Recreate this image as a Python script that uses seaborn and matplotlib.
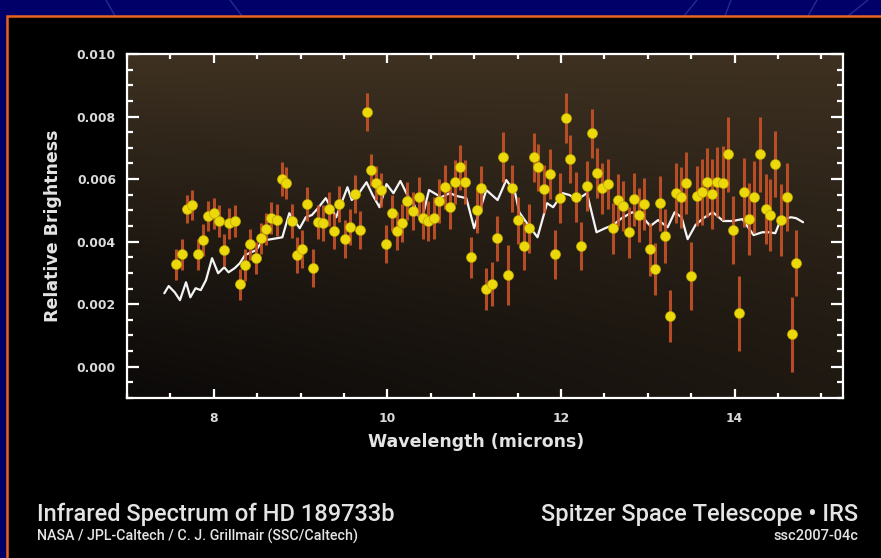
import numpy as np
import pandas as pd
import matplotlib
matplotlib.use("Agg")
import matplotlib.pyplot as plt
from matplotlib.patches import Rectangle
from matplotlib.lines import Line2D
from matplotlib.ticker import MultipleLocator, FormatStrFormatter
import seaborn as sns

# Measured secondary-eclipse spectrum (wavelength in microns)
wavelength = [
    7.57, 7.63, 7.69, 7.75, 7.82, 7.87, 7.93, 8.00, 8.06, 8.12,
    8.18, 8.24, 8.30, 8.36, 8.42, 8.49, 8.54, 8.60, 8.66, 8.73,
    8.79, 8.83, 8.90, 8.96, 9.02, 9.07, 9.14, 9.20, 9.26, 9.33,
    9.39, 9.44, 9.51, 9.57, 9.63, 9.69, 9.76, 9.81, 9.87, 9.93,
    9.99, 10.05, 10.11, 10.17, 10.23, 10.29, 10.36, 10.41, 10.47, 10.54,
    10.60, 10.66, 10.72, 10.78, 10.84, 10.90, 10.96, 11.03, 11.08, 11.14,
    11.20, 11.26, 11.33, 11.39, 11.44, 11.50, 11.57, 11.63, 11.69, 11.74,
    11.80, 11.87, 11.93, 11.99, 12.06, 12.11, 12.17, 12.23, 12.30, 12.36,
    12.41, 12.47, 12.54, 12.60, 12.66, 12.71, 12.78, 12.84, 12.90, 12.96,
    13.03, 13.08, 13.14, 13.20, 13.26, 13.33, 13.38, 13.44, 13.50, 13.57,
    13.63, 13.68, 13.74, 13.80, 13.87, 13.93, 13.98, 14.05, 14.11, 14.17,
    14.23, 14.29, 14.36, 14.41, 14.47, 14.53, 14.60, 14.66, 14.71,
]
brightness = [
    0.00328, 0.00360, 0.00504, 0.00517, 0.00360, 0.00405, 0.00482, 0.00491, 0.00466, 0.00373,
    0.00459, 0.00466, 0.00264, 0.00325, 0.00392, 0.00347, 0.00411, 0.00440, 0.00475, 0.00469,
    0.00600, 0.00587, 0.00466, 0.00357, 0.00376, 0.00520, 0.00315, 0.00462, 0.00459, 0.00504,
    0.00434, 0.00520, 0.00408, 0.00446, 0.00552, 0.00437, 0.00814, 0.00629, 0.00587, 0.00565,
    0.00392, 0.00491, 0.00434, 0.00459, 0.00530, 0.00498, 0.00542, 0.00475, 0.00466, 0.00475,
    0.00530, 0.00574, 0.00510, 0.00590, 0.00638, 0.00590, 0.00350, 0.00501, 0.00571, 0.00248,
    0.00264, 0.00411, 0.00670, 0.00293, 0.00571, 0.00469, 0.00386, 0.00443, 0.00670, 0.00638,
    0.00568, 0.00616, 0.00360, 0.00539, 0.00795, 0.00664, 0.00542, 0.00386, 0.00578, 0.00747,
    0.00619, 0.00571, 0.00584, 0.00443, 0.00533, 0.00514, 0.00430, 0.00536, 0.00485, 0.00520,
    0.00376, 0.00312, 0.00523, 0.00418, 0.00162, 0.00555, 0.00542, 0.00587, 0.00290, 0.00546,
    0.00558, 0.00590, 0.00552, 0.00590, 0.00587, 0.00680, 0.00437, 0.00171, 0.00558, 0.00472,
    0.00542, 0.00680, 0.00504, 0.00485, 0.00648, 0.00469, 0.00542, 0.00104, 0.00331,
]
brightness_err = [
    0.00050, 0.00050, 0.00045, 0.00048, 0.00050, 0.00050, 0.00048, 0.00050, 0.00050, 0.00052,
    0.00050, 0.00050, 0.00050, 0.00050, 0.00050, 0.00052, 0.00050, 0.00050, 0.00052, 0.00050,
    0.00055, 0.00052, 0.00055, 0.00058, 0.00060, 0.00055, 0.00060, 0.00055, 0.00058, 0.00055,
    0.00058, 0.00058, 0.00060, 0.00058, 0.00060, 0.00060, 0.00060, 0.00050, 0.00055, 0.00055,
    0.00060, 0.00058, 0.00060, 0.00060, 0.00062, 0.00062, 0.00065, 0.00065, 0.00065, 0.00068,
    0.00070, 0.00070, 0.00068, 0.00070, 0.00072, 0.00070, 0.00065, 0.00072, 0.00070, 0.00068,
    0.00070, 0.00072, 0.00080, 0.00095, 0.00075, 0.00075, 0.00078, 0.00078, 0.00078, 0.00075,
    0.00078, 0.00080, 0.00078, 0.00080, 0.00080, 0.00078, 0.00080, 0.00078, 0.00080, 0.00078,
    0.00080, 0.00082, 0.00080, 0.00082, 0.00082, 0.00080, 0.00082, 0.00085, 0.00085, 0.00082,
    0.00085, 0.00083, 0.00088, 0.00085, 0.00083, 0.00095, 0.00098, 0.00100, 0.00110, 0.00095,
    0.00105, 0.00110, 0.00112, 0.00112, 0.00118, 0.00120, 0.00110, 0.00120, 0.00110, 0.00115,
    0.00115, 0.00120, 0.00112, 0.00115, 0.00105, 0.00115, 0.00108, 0.00120, 0.00105,
]

# Model spectrum
model_wavelength = [
    7.43, 7.48, 7.55, 7.61, 7.68, 7.73, 7.79, 7.85, 7.91, 7.98,
    8.05, 8.12, 8.17, 8.24, 8.30, 8.36, 8.43, 8.49, 8.54, 8.60,
    8.73, 8.79, 8.87, 8.94, 8.99, 9.06, 9.13, 9.20, 9.29, 9.41,
    9.54, 9.59, 9.68, 9.76, 9.83, 9.91, 9.99, 10.07, 10.15, 10.23,
    10.31, 10.39, 10.48, 10.62, 10.72, 10.80, 10.91, 11.00, 11.14, 11.27,
    11.37, 11.47, 11.52, 11.60, 11.73, 11.84, 11.91, 12.02, 12.10, 12.18,
    12.30, 12.41, 12.51, 12.60, 12.70, 12.82, 12.93, 13.03, 13.12, 13.23,
    13.31, 13.39, 13.46, 13.55, 13.64, 13.75, 13.87, 13.98, 14.09, 14.22,
    14.32, 14.39, 14.47, 14.53, 14.65, 14.71, 14.79,
]
model_brightness = [
    0.00235, 0.00258, 0.00238, 0.00213, 0.00270, 0.00222, 0.00251, 0.00245, 0.00277, 0.00347,
    0.00299, 0.00318, 0.00302, 0.00315, 0.00331, 0.00357, 0.00366, 0.00373, 0.00395, 0.00405,
    0.00411, 0.00414, 0.00491, 0.00462, 0.00443, 0.00478, 0.00485, 0.00507, 0.00539, 0.00478,
    0.00574, 0.00533, 0.00558, 0.00590, 0.00549, 0.00510, 0.00584, 0.00555, 0.00594, 0.00549,
    0.00517, 0.00462, 0.00565, 0.00542, 0.00555, 0.00546, 0.00539, 0.00443, 0.00565, 0.00533,
    0.00597, 0.00558, 0.00494, 0.00462, 0.00414, 0.00523, 0.00510, 0.00555, 0.00549, 0.00533,
    0.00555, 0.00430, 0.00443, 0.00453, 0.00475, 0.00494, 0.00482, 0.00450, 0.00469, 0.00446,
    0.00494, 0.00478, 0.00408, 0.00453, 0.00475, 0.00494, 0.00466, 0.00466, 0.00472, 0.00421,
    0.00430, 0.00430, 0.00427, 0.00469, 0.00478, 0.00475, 0.00462,
]

x_range = (7.0, 15.25)
y_range = (-0.001, 0.010)

NAVY = "#000068"
ORANGE = "#e8641e"
TEXT = "#e4e4e4"

sns.set_theme(style="ticks")
plt.rcParams["font.family"] = ["DejaVu Sans"]

fig = plt.figure(figsize=(8.81, 5.58), dpi=100, facecolor=NAVY)
W, H = 881.0, 558.0

# faint streaks on the navy backdrop
streaks = [(106, 0, 115, 16), (230, 0, 242, 16), (697, 0, 684, 16),
           (731, 0, 725, 16), (817, 0, 808, 16), (868, 0, 848, 16)]
for x0, y0, x1, y1 in streaks:
    fig.add_artist(Line2D([x0 / W, x1 / W], [1 - y0 / H, 1 - y1 / H],
                          transform=fig.transFigure, color="#3a4ab0",
                          lw=1.0, alpha=0.6, zorder=-6))

# black panel with orange border
panel = Rectangle((6.5 / W, -0.1), 1.2, 1 - 16.5 / H + 0.1,
                  transform=fig.transFigure, facecolor="black",
                  edgecolor=ORANGE, lw=1.8, zorder=-5)
fig.add_artist(panel)

ax = fig.add_axes([127 / W, 1 - 398 / H, (843 - 127) / W, (398 - 54) / H])
ax.set_facecolor("black")

# warm gradient behind the data
ny, nx = 200, 300
yy, xx = np.mgrid[0:1:ny * 1j, 0:1:nx * 1j]
t = np.clip(yy ** 1.2 + 0.38 * xx * (1 - yy), 0, 1)
dark = np.array([12, 10, 9]) / 255.0
warm = np.array([62, 49, 33]) / 255.0
grad = dark + t[..., None] * (warm - dark)
ax.imshow(grad, extent=(*x_range, *y_range), origin="lower",
          aspect="auto", zorder=0, interpolation="bilinear")

pts = pd.DataFrame({"wavelength": wavelength, "brightness": brightness,
                    "err": brightness_err})
model = pd.DataFrame({"wavelength": model_wavelength,
                      "brightness": model_brightness})

sns.lineplot(data=model, x="wavelength", y="brightness", ax=ax,
             color="#f4f4f4", lw=1.6, sort=False, estimator=None, zorder=3)
ax.errorbar(pts["wavelength"], pts["brightness"], yerr=pts["err"],
            fmt="none", ecolor="#cc5428", elinewidth=2.2, capsize=0,
            alpha=0.88, zorder=4)
sns.scatterplot(data=pts, x="wavelength", y="brightness", ax=ax,
                color="#ecd90c", s=52, edgecolor="#b9a300", linewidth=0.5,
                zorder=5)

ax.set_xlim(*x_range)
ax.set_ylim(*y_range)

for sp in ax.spines.values():
    sp.set_color("white")
    sp.set_linewidth(1.6)
    sp.set_visible(True)
    sp.set_zorder(6)

ax.xaxis.set_major_locator(MultipleLocator(2))
ax.xaxis.set_minor_locator(MultipleLocator(0.5))
ax.yaxis.set_major_locator(MultipleLocator(0.002))
ax.yaxis.set_minor_locator(MultipleLocator(0.0005))
ax.yaxis.set_major_formatter(FormatStrFormatter("%.3f"))

ax.tick_params(which="both", direction="in", top=True, right=True,
               color="white", width=1.6, labelcolor="#dadada", labelsize=8.9)
ax.tick_params(axis="x", which="major", length=6.5, pad=10)
ax.tick_params(axis="x", which="minor", length=3.6)
ax.tick_params(axis="y", which="major", length=8.6, pad=8)
ax.tick_params(axis="y", which="minor", length=4.3)
for lab in ax.get_xticklabels() + ax.get_yticklabels():
    lab.set_fontweight("bold")

ax.set_xlabel("Wavelength (microns)", fontsize=12.5, color=TEXT,
              fontweight="bold")
ax.set_ylabel("Relative Brightness", fontsize=12.5, color=TEXT,
              fontweight="bold")
ax.xaxis.set_label_coords(0.487, -0.102)
ax.yaxis.set_label_coords(-0.091, 0.5)

cond = ["Roboto", "DejaVu Sans"]
fig.text(37 / W, 1 - 514 / H, "Infrared Spectrum of HD 189733b",
         color=TEXT, fontsize=17, family=cond, fontweight="medium",
         ha="left", va="center")
fig.text(37 / W, 1 - 536 / H, "NASA / JPL-Caltech / C. J. Grillmair (SSC/Caltech)",
         color=TEXT, fontsize=10.3, family=cond, fontweight="medium",
         ha="left", va="center")
fig.text(858 / W, 1 - 514 / H, "Spitzer Space Telescope \u2022 IRS",
         color=TEXT, fontsize=17, family=cond, fontweight="medium",
         ha="right", va="center")
fig.text(858 / W, 1 - 536 / H, "ssc2007-04c",
         color=TEXT, fontsize=10.5, family=cond, fontweight="medium",
         ha="right", va="center")

fig.savefig("out.png", dpi=100, facecolor=NAVY)
